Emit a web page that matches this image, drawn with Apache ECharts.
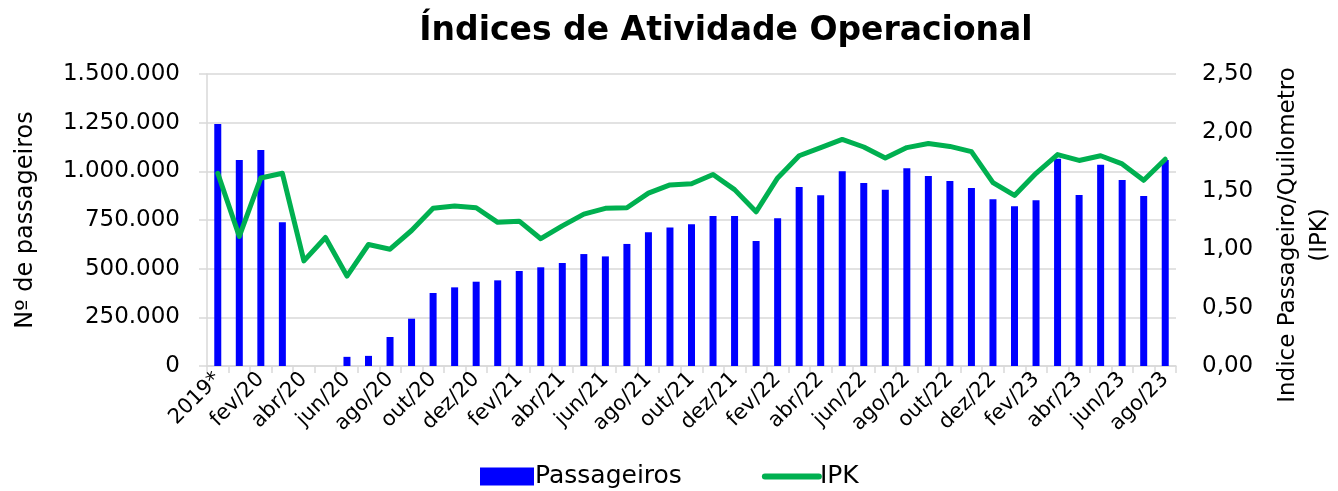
<!DOCTYPE html>
<html>
<head>
<meta charset="utf-8">
<script src="https://cdn.jsdelivr.net/npm/echarts@6/dist/echarts.min.js"></script>
<style>
  html, body { margin: 0; padding: 0; background: #fff; }
  #chart { width: 1338px; height: 491px; }
</style>
</head>
<body>
<div id="chart"></div>
<script>
// categorias (mês/ano)
const categories = [
  "2019*", "jan/20", "fev/20", "mar/20", "abr/20", "mai/20", "jun/20", "jul/20", "ago/20", "set/20", "out/20", "nov/20", "dez/20",
  "jan/21", "fev/21", "mar/21", "abr/21", "mai/21", "jun/21", "jul/21", "ago/21", "set/21", "out/21", "nov/21", "dez/21",
  "jan/22", "fev/22", "mar/22", "abr/22", "mai/22", "jun/22", "jul/22", "ago/22", "set/22", "out/22", "nov/22", "dez/22",
  "jan/23", "fev/23", "mar/23", "abr/23", "mai/23", "jun/23", "jul/23", "ago/23"
];

const passageiros = [
  1243000, 1058000, 1110000, 738000, 0, 0, 47000, 52000, 149000, 243000, 375000, 404000, 433000,
  440000, 488000, 507000, 529000, 575000, 563000, 627000, 687000, 712000, 728000, 771000, 771000,
  642000, 759000, 920000, 877000, 1000000, 940000, 906000, 1016000, 976000, 950000, 914000, 856000,
  820000, 851000, 1065000, 878000, 1034000, 955000, 873000, 1058000
];

const ipk = [
  1.65, 1.11, 1.61, 1.65, 0.90, 1.10, 0.77, 1.04, 1.00, 1.16, 1.35, 1.37, 1.355,
  1.23, 1.24, 1.09, 1.20, 1.30, 1.35, 1.355, 1.48, 1.55, 1.56, 1.64, 1.51,
  1.32, 1.61, 1.80, 1.87, 1.94, 1.875, 1.78, 1.87, 1.905, 1.88, 1.835, 1.57,
  1.46, 1.65, 1.81, 1.76, 1.80, 1.73, 1.59, 1.77
];

const fontName = "DejaVu Sans";

function fmtPass(v) {
  return String(v).replace(/\B(?=(\d{3})+(?!\d))/g, ".");
}

let myChart = echarts.init(document.getElementById("chart"));
let option = {
  animation: false,
  textStyle: { fontFamily: fontName, color: "#000" },
  title: {
    text: "Índices de Atividade Operacional",
    left: 721,
    textAlign: "center",
    top: 10,
    textStyle: { fontFamily: fontName, fontWeight: "bold", fontSize: 33, color: "#000" }
  },
  grid: { left: 207, right: 162, top: 74, bottom: 125, containLabel: false, outerBoundsMode: "none" },
  legend: {
    top: 464,
    left: 480,
    padding: 0,
    itemWidth: 54,
    itemHeight: 18,
    itemGap: 80,
    textStyle: { fontFamily: fontName, fontSize: 25, color: "#000", padding: [0, 0, 0, -4] },
    data: [
      { name: "Passageiros", icon: "rect" },
      { name: "IPK", itemStyle: { opacity: 0 }, lineStyle: { width: 6, cap: "round" } }
    ]
  },
  xAxis: {
    type: "category",
    data: categories,
    axisLine: { lineStyle: { color: "#d9d9d9", width: 1.5 } },
    axisTick: { show: true, alignWithLabel: false, interval: 0, length: 7, lineStyle: { color: "#d9d9d9", width: 1.5 } },
    axisLabel: { interval: 1, rotate: 45, fontSize: 21, color: "#000", margin: 10, fontFamily: fontName }
  },
  yAxis: [
    {
      type: "value",
      min: 0,
      max: 1500000,
      interval: 250000,
      name: "Nº de passageiros",
      nameLocation: "middle",
      nameGap: 169,
      nameTextStyle: { fontSize: 24, color: "#000", fontFamily: fontName },
      axisLine: { show: true, lineStyle: { color: "#d9d9d9", width: 1.5 } },
      axisTick: { show: true, length: 8, lineStyle: { color: "#d9d9d9", width: 1.5 } },
      splitLine: { lineStyle: { color: "#d9d9d9", width: 1.5 } },
      axisLabel: { fontSize: 23, color: "#000", margin: 27, formatter: fmtPass, fontFamily: fontName }
    },
    {
      type: "value",
      min: 0,
      max: 2.5,
      interval: 0.5,
      name: "Indice Passageiro/Quilometro\n(IPK)",
      nameLocation: "middle",
      nameGap: 96,
      nameRotate: 90,
      nameTextStyle: { fontSize: 23, color: "#000", fontFamily: fontName, lineHeight: 32, padding: [0, 30, 0, 0] },
      axisLine: { show: false },
      axisTick: { show: false },
      splitLine: { show: false },
      axisLabel: { fontSize: 23, color: "#000", margin: 26, fontFamily: fontName,
        formatter: v => v.toFixed(2).replace(".", ",") }
    }
  ],
  series: [
    {
      name: "Passageiros",
      type: "bar",
      yAxisIndex: 0,
      data: passageiros,
      barWidth: 7,
      itemStyle: { color: "#0000ff" }
    },
    {
      name: "IPK",
      type: "line",
      yAxisIndex: 1,
      data: ipk,
      symbol: "none",
      lineStyle: { color: "#00b050", width: 5, cap: "round", join: "round" },
      itemStyle: { color: "#00b050" }
    }
  ]
};
myChart.setOption(option);
</script>
</body>
</html>
